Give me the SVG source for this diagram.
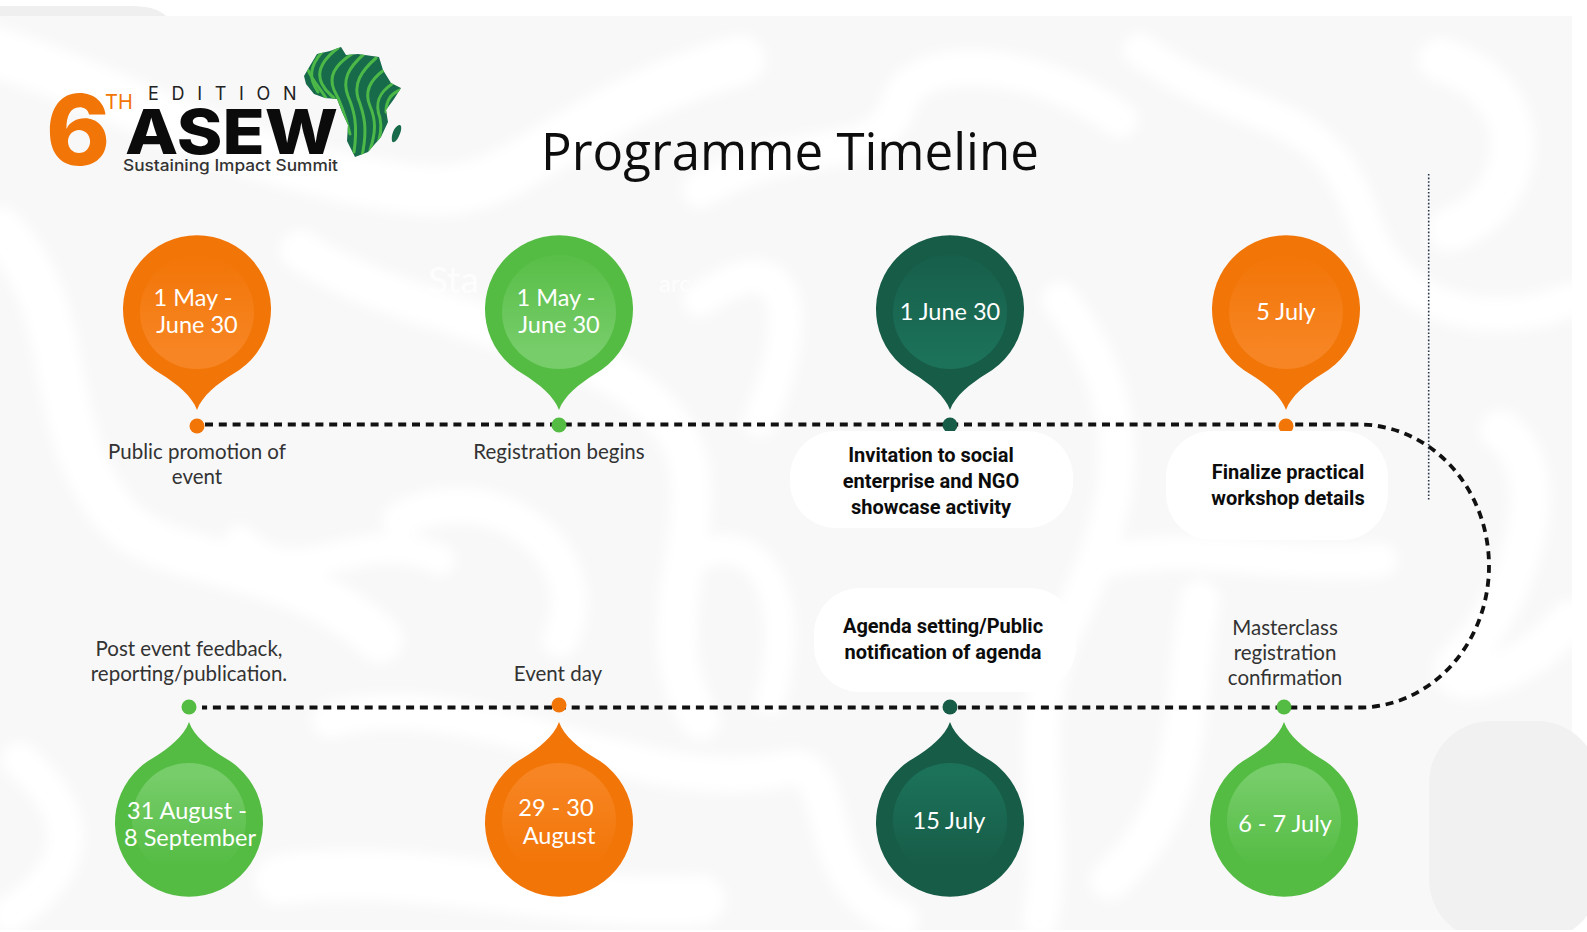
<svg xmlns="http://www.w3.org/2000/svg" width="1587" height="932" viewBox="0 0 1587 932">
<style>
.lbl{font-family:Lato,"Liberation Sans",sans-serif;font-size:20.5px;fill:#333;text-anchor:middle}
.bold{font-family:Roboto,"Liberation Sans",sans-serif;font-size:20px;font-weight:700;fill:#0c0c0c;text-anchor:middle}
.date{font-family:Lato,"Liberation Sans",sans-serif;font-size:23.5px;fill:#fff;text-anchor:middle}
.orange{fill:#f27507}.green{fill:#54bc43}.dark{fill:#175c47}
.swirl{fill:none;stroke:#fff;stroke-linecap:round}
.dash{fill:none;stroke:#111;stroke-width:3.8;stroke-dasharray:8 5.8}
.bubble{fill:#fff}
.logo{font-family:Inter,"Liberation Sans",sans-serif}
</style>
<defs>
<path id="pinTop" d="M0,101C-5,87-20,75-36,65A74,74 0 1 1 36,65C20,75 5,87 0,101Z"/>
<path id="pinBottom" d="M0,-101C-5,-87-20,-75-36,-65A74,74 0 1 0 36,-65C20,-75 5,-87 0,-101Z"/>
<linearGradient id="oUp" x1="0" y1="0" x2="0" y2="1"><stop offset="0" stop-color="#f27507"/><stop offset=".85" stop-color="#f78523"/></linearGradient>
<linearGradient id="gUp" x1="0" y1="0" x2="0" y2="1"><stop offset="0" stop-color="#58be47"/><stop offset=".85" stop-color="#77cd6a"/></linearGradient>
<linearGradient id="dUp" x1="0" y1="0" x2="0" y2="1"><stop offset="0" stop-color="#175f4a"/><stop offset=".9" stop-color="#1c7159"/></linearGradient>
<linearGradient id="oDown" x1="0" y1="0" x2="0" y2="1"><stop offset=".1" stop-color="#f78523"/><stop offset=".9" stop-color="#f27507"/></linearGradient>
<linearGradient id="gDown" x1="0" y1="0" x2="0" y2="1"><stop offset=".1" stop-color="#77cd6a"/><stop offset=".9" stop-color="#54bc43"/></linearGradient>
<linearGradient id="dDown" x1="0" y1="0" x2="0" y2="1"><stop offset=".1" stop-color="#1c7159"/><stop offset=".9" stop-color="#175c47"/></linearGradient>
<filter id="soft" x="-10%" y="-10%" width="120%" height="120%"><feGaussianBlur stdDeviation="6"/></filter>
<clipPath id="africa"><path d="M311,64L317,54 330,51 341,47 346,55 358,54 379,57 383,70 391,83 401,88 394,99 386,110 388,122 381,137 368,152 355,157 347,141 348,125 342,112 337,99 325,98 314,94 306,84 304,76Z"/></clipPath>
</defs>
<g id="background">
<rect width="1587" height="932" fill="#fff"/>
<rect y="16" width="1572" height="914" fill="#f8f8f8"/>
<path d="M0,16V6H130C150,6 160,10 166,16Z" fill="#efefef"/>
<g filter="url(#soft)">
<path class="swirl" stroke-width="50" d="M-10,50C120,90 240,170 420,190C520,200 560,110 740,60"/>
<path class="swirl" stroke-width="46" d="M0,230C80,310 40,430 120,520C170,570 300,560 380,640"/>
<path class="swirl" stroke-width="40" d="M300,250C420,330 620,330 680,440C720,520 640,620 700,720"/>
<path class="swirl" stroke-width="36" d="M700,190C800,130 880,170 900,100C920,50 1040,60 1120,120"/>
<path class="swirl" stroke-width="36" d="M1060,300C1150,420 1120,520 1060,640C1020,740 1060,830 1040,920"/>
<path class="swirl" stroke-width="34" d="M1140,50C1250,130 1320,100 1360,210C1390,320 1500,330 1570,300"/>
<path class="swirl" stroke-width="44" d="M1440,60C1540,90 1530,200 1450,230"/>
<path class="swirl" stroke-width="40" d="M1500,430C1560,470 1520,600 1460,660C1430,690 1510,690 1570,620"/>
<path class="swirl" stroke-width="36" d="M330,720C470,680 640,800 780,770C850,750 800,880 900,920"/>
<path class="swirl" stroke-width="36" d="M20,760C100,830 60,880 10,915"/>
<path class="swirl" stroke-width="50" d="M280,880C420,860 560,910 700,900"/>
<path class="swirl" stroke-width="40" d="M1110,880C1200,800 1180,700 1200,600"/>
<path class="swirl" stroke-width="36" d="M400,520C500,470 600,560 560,640"/>
<path class="swirl" stroke-width="34" d="M700,300C800,230 800,330 760,420"/>
<path class="swirl" stroke-width="30" d="M240,540C300,600 360,520 440,560"/>
<path class="swirl" stroke-width="30" d="M690,560C760,520 800,600 770,700"/>
<path class="swirl" stroke-width="34" d="M1110,560C1200,540 1280,570 1380,560"/>
</g>
<rect x="1429" y="721" width="170" height="220" rx="62" fill="#f1f1f1"/>
<rect y="930" width="1587" height="2" fill="#fff"/>
<text x="428" y="293" font-family="Lato,sans-serif" font-size="37" fill="#fff" opacity=".75">Sta</text>
<text x="659" y="292" font-family="Lato,sans-serif" font-size="24" fill="#fff" opacity=".75">arc</text>
</g>
<g id="logo">
<text class="logo" x="46" y="165" font-size="97" font-weight="800" fill="#f27507">6</text>
<text class="logo" x="105" y="109" font-size="20" fill="#f27507">TH</text>
<text class="logo" x="148" y="100" font-size="18" letter-spacing="12.7" fill="#222">EDITION</text>
<text class="logo" x="125" y="154" font-size="62" font-weight="800" fill="#0b0b0b" textLength="213" lengthAdjust="spacingAndGlyphs">ASEW</text>
<text class="logo" x="123" y="171" font-size="16" font-weight="500" fill="#333" textLength="215" lengthAdjust="spacingAndGlyphs">Sustaining Impact Summit</text>
<path fill="#176a4a" d="M311,64L317,54 330,51 341,47 346,55 358,54 379,57 383,70 391,83 401,88 394,99 386,110 388,122 381,137 368,152 355,157 347,141 348,125 342,112 337,99 325,98 314,94 306,84 304,76Z"/>
<g fill="none" stroke="#4cb848" stroke-width="3" stroke-linecap="round" clip-path="url(#africa)">
<path d="M322,52C310,66 308,78 318,92"/>
<path d="M338,48C322,60 316,72 322,84 326,92 330,94 334,98"/>
<path d="M352,54C336,64 328,76 334,90 342,104 346,118 350,134"/>
<path d="M364,54C348,68 342,80 348,96 354,110 358,124 354,152"/>
<path d="M376,58C360,72 354,84 358,98 364,114 368,128 362,156"/>
<path d="M384,70C370,80 364,92 370,106 376,120 376,132 370,150"/>
<path d="M392,84C380,92 374,102 380,118 382,128 380,136 378,144"/>
<path d="M400,90C390,94 386,102 386,112"/>
<path d="M308,70C312,80 320,88 326,98"/>
</g>
<path fill="#176a4a" d="M399,125C402,124 402,130 399,136 397,141 393,144 392,141 391,135 394,127 399,125Z"/>
</g>
<g id="connectors">
<path class="dash" d="M205,424.5H1359A130,141.5 0 0 1 1359,707.5H202"/>
</g>
<path id="guide" d="M1428.7,174V500" fill="none" stroke="#26344a" stroke-width="1.6" stroke-dasharray="1.6 2"/>
<g id="node-1">
<circle class="orange" cx="197" cy="426" r="7.5"/>
<use href="#pinTop" class="orange" x="197" y="309"/>
<circle cx="197" cy="312" r="57" fill="url(#oUp)"/>
<text class="date" x="193" y="306">1 May -</text><text class="date" x="197" y="333">June 30</text>
<text class="lbl" x="197" y="459">Public promotion of</text><text class="lbl" x="197" y="484">event</text>
</g>
<g id="node-2">
<circle class="green" cx="559" cy="425" r="7.5"/>
<use href="#pinTop" class="green" x="559" y="309"/>
<circle cx="559" cy="312" r="57" fill="url(#gUp)"/>
<text class="date" x="556" y="306">1 May -</text><text class="date" x="559" y="333">June 30</text>
<text class="lbl" x="559" y="459">Registration begins</text>
</g>
<g id="node-3">
<circle class="dark" cx="950" cy="425" r="7.5"/>
<use href="#pinTop" class="dark" x="950" y="309"/>
<circle cx="950" cy="312" r="57" fill="url(#dUp)"/>
<text class="date" x="950" y="320">1 June 30</text>
<rect class="bubble" x="790" y="431" width="283" height="97" rx="46"/>
<text class="bold" x="931" y="462">Invitation to social</text><text class="bold" x="931" y="488">enterprise and NGO</text><text class="bold" x="931" y="514">showcase activity</text>
</g>
<g id="node-4">
<circle class="orange" cx="1286" cy="426" r="7.5"/>
<use href="#pinTop" class="orange" x="1286" y="309"/>
<circle cx="1286" cy="312" r="57" fill="url(#oUp)"/>
<text class="date" x="1286" y="320">5 July</text>
<rect class="bubble" x="1166" y="431" width="222" height="109" rx="46"/>
<text class="bold" x="1288" y="479">Finalize practical</text><text class="bold" x="1288" y="505">workshop details</text>
</g>
<g id="node-5">
<circle class="green" cx="1284" cy="707" r="7.5"/>
<use href="#pinBottom" class="green" x="1284" y="823"/>
<circle cx="1284" cy="820" r="57" fill="url(#gDown)"/>
<text class="date" x="1285" y="832">6 - 7 July</text>
<text class="lbl" x="1285" y="635">Masterclass</text><text class="lbl" x="1285" y="660">registration</text><text class="lbl" x="1285" y="685">confirmation</text>
</g>
<g id="node-6">
<rect class="bubble" x="814" y="588" width="262" height="104" rx="46"/>
<circle class="dark" cx="950" cy="707" r="7.5"/>
<use href="#pinBottom" class="dark" x="950" y="823"/>
<circle cx="950" cy="820" r="57" fill="url(#dDown)"/>
<text class="date" x="949" y="829">15 July</text>
<text class="bold" x="943" y="633">Agenda setting/Public</text><text class="bold" x="943" y="659">notification of agenda</text>
</g>
<g id="node-7">
<circle class="orange" cx="559" cy="705" r="7.5"/>
<use href="#pinBottom" class="orange" x="559" y="823"/>
<circle cx="559" cy="820" r="57" fill="url(#oDown)"/>
<text class="date" x="556" y="816">29 - 30</text><text class="date" x="559" y="844">August</text>
<text class="lbl" x="558" y="681">Event day</text>
</g>
<g id="node-8">
<circle class="green" cx="189" cy="707" r="7.5"/>
<use href="#pinBottom" class="green" x="189" y="823"/>
<circle cx="189" cy="820" r="57" fill="url(#gDown)"/>
<text class="date" x="187" y="819">31 August -</text><text class="date" x="190" y="846">8 September</text>
<text class="lbl" x="189" y="656">Post event feedback,</text><text class="lbl" x="189" y="681">reporting/publication.</text>
</g>
<text id="title" x="541" y="170" font-family="'Open Sans','Liberation Sans',sans-serif" font-size="51" fill="#0d0d0d">Programme Timeline</text>
</svg>
